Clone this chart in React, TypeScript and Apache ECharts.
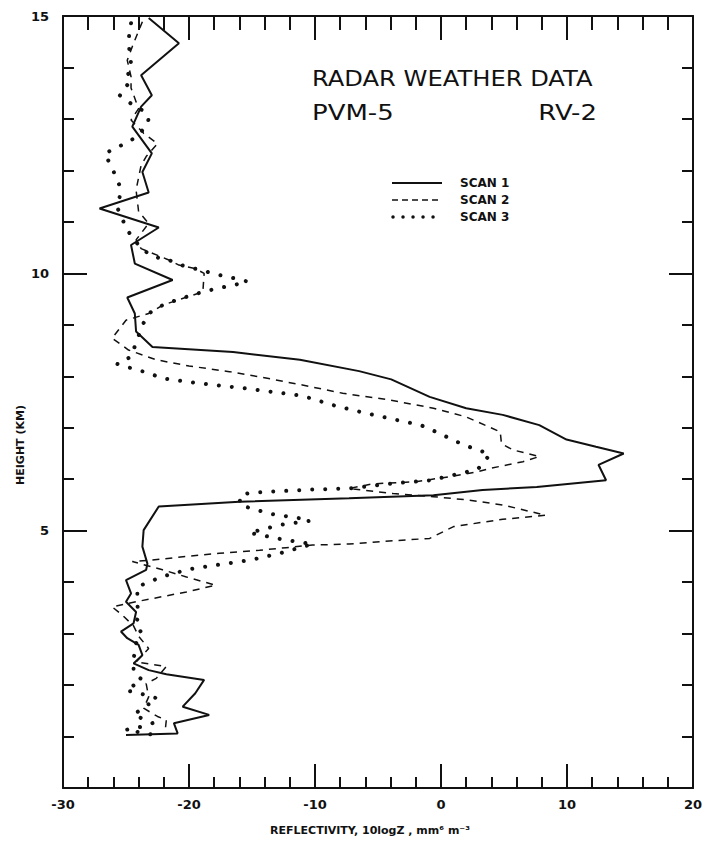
import React, { useEffect, useRef } from "react";
import * as echarts from "echarts";

// Reflectivity (10 log Z) vs height (km) for three radar scans: [reflectivity, height]
const scan1: [number, number][] = [
  [-23.2, 14.96], [-20.8, 14.47], [-23.8, 13.85], [-22.95, 13.46], [-23.8, 13.24], [-24.5, 12.85],
  [-22.95, 12.33], [-23.7, 11.97], [-23.2, 11.57], [-27.1, 11.26], [-22.4, 10.89], [-24.6, 10.55],
  [-24.3, 10.19], [-21.3, 9.87], [-24.9, 9.53], [-24.3, 9.22], [-24.2, 8.87], [-22.9, 8.57],
  [-16.5, 8.47], [-11.2, 8.32], [-6.5, 8.1], [-3.95, 7.94], [-0.9, 7.6], [2.0, 7.38], [4.9, 7.25],
  [7.8, 7.05], [9.96, 6.77], [12.3, 6.63], [14.5, 6.5], [12.5, 6.28], [13.1, 5.98], [7.6, 5.85],
  [3.3, 5.79], [-0.6, 5.69], [-7.3, 5.63], [-16.0, 5.56], [-22.4, 5.47], [-23.6, 5.01], [-23.7, 4.69],
  [-23.3, 4.36], [-23.4, 4.24], [-25.0, 4.04], [-24.6, 3.78], [-25.0, 3.62], [-24.2, 3.42], [-24.4, 3.2],
  [-25.4, 3.04], [-24.9, 2.91], [-24.0, 2.78], [-23.7, 2.58], [-24.4, 2.42], [-23.2, 2.29], [-21.8, 2.21],
  [-18.8, 2.1], [-19.5, 1.84], [-20.5, 1.58], [-18.4, 1.42], [-21.2, 1.26], [-20.9, 1.06], [-25.0, 1.03],
];

const scan2: [number, number][] = [
  [-23.7, 14.89], [-24.4, 14.47], [-24.9, 14.14], [-24.6, 13.82], [-24.6, 13.6], [-24.0, 13.2],
  [-24.6, 12.98], [-23.6, 12.72], [-22.5, 12.52], [-23.4, 12.27], [-23.8, 12.1], [-24.2, 11.62],
  [-24.0, 11.2], [-23.2, 10.97], [-24.2, 10.65], [-23.8, 10.48], [-21.7, 10.27], [-20.8, 10.16],
  [-19.5, 10.09], [-18.8, 10.0], [-18.9, 9.64], [-20.9, 9.48], [-22.1, 9.38], [-23.2, 9.22],
  [-25.0, 9.09], [-26.1, 8.74], [-24.8, 8.51], [-22.6, 8.32], [-20.0, 8.2], [-16.8, 8.09],
  [-14.2, 7.98], [-11.0, 7.83], [-7.8, 7.67], [-4.1, 7.54], [-0.6, 7.38], [2.0, 7.21], [4.7, 6.92],
  [4.8, 6.69], [5.7, 6.57], [7.8, 6.44], [6.5, 6.34], [3.9, 6.21], [2.8, 6.14], [0.7, 6.05],
  [-2.0, 5.95], [-5.4, 5.91], [-7.3, 5.82], [-3.8, 5.72], [-0.6, 5.66], [2.0, 5.6], [4.9, 5.5],
  [8.3, 5.3], [4.9, 5.22], [1.0, 5.08], [-0.9, 4.85], [-4.6, 4.79], [-7.3, 4.74], [-10.2, 4.72],
  [-12.3, 4.67], [-14.4, 4.62], [-17.6, 4.56], [-20.2, 4.5], [-22.9, 4.43], [-24.5, 4.4],
  [-22.1, 4.24], [-20.2, 4.1], [-17.9, 3.94], [-20.2, 3.81], [-22.9, 3.68], [-24.2, 3.62],
  [-26.1, 3.52], [-25.3, 3.36], [-24.4, 3.15], [-24.0, 2.95], [-23.2, 2.71], [-24.2, 2.45],
  [-21.8, 2.36], [-22.6, 2.13], [-23.4, 2.03], [-23.2, 1.77], [-23.6, 1.55], [-22.5, 1.39],
  [-21.8, 1.32], [-21.9, 1.09],
];

const scan3: [number, number][] = [
  [-24.6, 14.86], [-24.75, 14.63], [-24.8, 14.47], [-24.7, 14.29], [-24.6, 14.08], [-24.9, 13.92],
  [-24.6, 13.76], [-25.5, 13.46], [-25.0, 13.37], [-24.3, 13.24], [-23.7, 13.17], [-23.2, 13.02],
  [-23.3, 12.88], [-24.2, 12.65], [-24.9, 12.54], [-25.8, 12.44], [-26.7, 12.32], [-26.2, 12.1],
  [-25.9, 11.93], [-25.5, 11.7], [-25.5, 11.49], [-25.7, 11.28], [-25.3, 11.07], [-25.0, 10.87],
  [-24.4, 10.68], [-23.8, 10.48], [-22.8, 10.32], [-21.7, 10.27], [-20.8, 10.17], [-19.5, 10.09],
  [-18.4, 10.02], [-17.3, 9.95], [-16.3, 9.9], [-15.35, 9.84], [-16.3, 9.78], [-17.5, 9.72],
  [-18.9, 9.64], [-20.9, 9.49], [-22.1, 9.38], [-23.2, 9.22], [-23.7, 8.99], [-24.6, 8.38],
  [-25.7, 8.24], [-24.5, 8.15], [-23.3, 8.07], [-22.1, 7.96], [-20.1, 7.89], [-18.0, 7.83],
  [-15.7, 7.77], [-13.2, 7.69], [-11.0, 7.62], [-8.3, 7.42], [-6.1, 7.29], [-3.7, 7.16],
  [-1.6, 7.05], [-0.4, 6.92], [1.6, 6.69], [2.75, 6.58], [3.9, 6.49], [3.3, 6.3], [2.9, 6.19],
  [1.5, 6.11], [-0.8, 5.98], [-3.7, 5.92], [-7.3, 5.82], [-10.2, 5.8], [-12.6, 5.77], [-14.95, 5.74],
  [-15.9, 5.7], [-16.0, 5.5], [-13.6, 5.33], [-11.2, 5.24], [-10.4, 5.19], [-12.8, 5.11],
  [-15.2, 4.96], [-12.6, 4.83], [-10.2, 4.74], [-12.8, 4.56], [-15.1, 4.43], [-17.6, 4.34],
  [-20.0, 4.25], [-22.1, 4.11], [-24.1, 3.91], [-24.1, 3.56], [-24.0, 3.36], [-24.2, 3.2],
  [-23.8, 3.02], [-24.2, 2.81], [-24.4, 2.5], [-24.4, 2.23], [-23.7, 2.1], [-25.0, 1.9],
  [-23.8, 1.83], [-22.5, 1.74], [-23.7, 1.55], [-24.4, 1.42], [-23.7, 1.35], [-22.9, 1.26],
  [-23.8, 1.19], [-25.0, 1.13], [-23.4, 1.06], [-22.1, 1.0],
];

const seriesNames = ["SCAN 1", "SCAN 2", "SCAN 3"];
const xRange = { min: -30, max: 20, interval: 10 };
const yRange = { min: 0, max: 15, interval: 5 };
const titleLines = ["RADAR WEATHER DATA", "PVM-5", "RV-2"];
const xTitle = "REFLECTIVITY, 10logZ , mm\u2076 m\u207B\u00B3";
const yTitle = "HEIGHT (KM)";

const INK = "#111111";
const FONT = "'DejaVu Sans', sans-serif";

export default function App() {
  const ref = useRef<HTMLDivElement>(null);

  useEffect(() => {
    if (!ref.current) return;
    const chart = echarts.init(ref.current, undefined, { renderer: "svg" });

    const axisCommon = {
      axisLine: { show: true, onZero: false, lineStyle: { color: INK, width: 2 } },
      axisTick: { show: true, inside: true, length: 24, lineStyle: { color: INK, width: 2 } },
      minorTick: { show: true, splitNumber: 5, length: 11, lineStyle: { color: INK, width: 2 } },
      splitLine: { show: false },
    };

    const labelStyle = {
      color: INK,
      fontFamily: FONT,
      fontWeight: "bold" as const,
      fontSize: 13,
    };

    const titleFont = `22px ${FONT}`;

    const option: any = {
      animation: false,
      backgroundColor: "#ffffff",
      grid: { left: 63, right: 17, top: 16, bottom: 56, containLabel: false },
      xAxis: [
        {
          type: "value",
          position: "bottom",
          ...xRange,
          ...axisCommon,
          axisLabel: { ...labelStyle, margin: 10, formatter: (v: number) => String(v) },
        },
        {
          type: "value",
          position: "top",
          ...xRange,
          ...axisCommon,
          minorTick: { ...axisCommon.minorTick, length: 14 },
          axisLabel: { show: false },
        },
      ],
      yAxis: [
        {
          type: "value",
          position: "left",
          ...yRange,
          ...axisCommon,
          axisLabel: {
            ...labelStyle,
            margin: 14,
            formatter: (v: number) => (v === 0 ? "" : String(v)),
          },
        },
        {
          type: "value",
          position: "right",
          ...yRange,
          ...axisCommon,
          axisLabel: { show: false },
        },
      ],
      series: [
        {
          name: seriesNames[0],
          type: "line",
          data: scan1,
          showSymbol: false,
          symbol: "none",
          lineStyle: { color: INK, width: 2 },
        },
        {
          name: seriesNames[1],
          type: "line",
          data: scan2,
          showSymbol: false,
          symbol: "none",
          lineStyle: { color: INK, width: 1.5, type: [7, 6] },
        },
        {
          name: seriesNames[2],
          type: "line",
          data: scan3,
          showSymbol: false,
          symbol: "none",
          lineStyle: { color: INK, width: 4, type: [0.01, 13], cap: "round" },
        },
      ],
      graphic: [
        {
          type: "text",
          x: 312,
          y: 78,
          scaleX: 1.1,
          style: { text: titleLines[0], font: titleFont, fill: INK, textVerticalAlign: "middle" },
        },
        {
          type: "text",
          x: 312,
          y: 113,
          scaleX: 1.18,
          style: { text: titleLines[1], font: titleFont, fill: INK, textVerticalAlign: "middle" },
        },
        {
          type: "text",
          x: 597,
          y: 113,
          scaleX: 1.18,
          style: { text: titleLines[2], font: titleFont, fill: INK, textAlign: "right", textVerticalAlign: "middle" },
        },
        // legend
        {
          type: "line",
          shape: { x1: 392, y1: 183, x2: 442, y2: 183 },
          style: { stroke: INK, lineWidth: 2 },
        },
        {
          type: "line",
          shape: { x1: 392, y1: 200, x2: 442, y2: 200 },
          style: { stroke: INK, lineWidth: 1.5, lineDash: [6, 4] },
        },
        {
          type: "line",
          shape: { x1: 393, y1: 217, x2: 442, y2: 217 },
          style: { stroke: INK, lineWidth: 3.5, lineDash: [0.01, 10], lineCap: "round" },
        },
        {
          type: "text",
          x: 460,
          y: 183,
          style: { text: seriesNames[0], font: `bold 12px ${FONT}`, fill: INK, textVerticalAlign: "middle" },
        },
        {
          type: "text",
          x: 460,
          y: 200,
          style: { text: seriesNames[1], font: `bold 12px ${FONT}`, fill: INK, textVerticalAlign: "middle" },
        },
        {
          type: "text",
          x: 460,
          y: 217,
          style: { text: seriesNames[2], font: `bold 12px ${FONT}`, fill: INK, textVerticalAlign: "middle" },
        },
        // axis titles
        {
          type: "text",
          x: 370,
          y: 830,
          style: {
            text: xTitle,
            font: `bold 11px ${FONT}`,
            fill: INK,
            textAlign: "center",
            textVerticalAlign: "middle",
          },
        },
        {
          type: "text",
          x: 20,
          y: 445,
          rotation: Math.PI / 2,
          style: {
            text: yTitle,
            font: `bold 11px ${FONT}`,
            fill: INK,
            textAlign: "center",
            textVerticalAlign: "middle",
          },
        },
      ],
    };

    chart.setOption(option);
    return () => chart.dispose();
  }, []);

  return (
    <div
      ref={ref}
      style={{ position: "absolute", left: 0, top: 0, width: 710, height: 844, background: "#fff" }}
    />
  );
}
